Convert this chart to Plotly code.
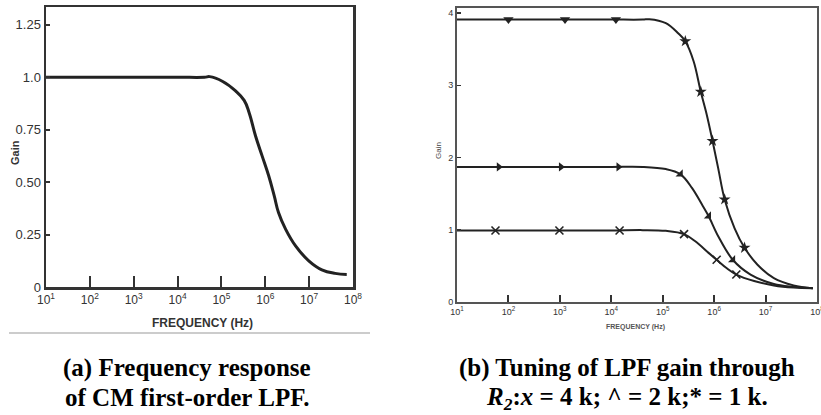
import plotly.graph_objects as go

W, H = 821, 415

# ---------------- data: panel (a) ----------------
a_freq = [1e1, 1e2, 1e3, 1e4, 4.1e4, 5.4e4, 1.07e5, 2.1e5, 3.3e5, 4.3e5, 6.0e5,
          8.5e5, 1.2e6, 1.6e6, 2.0e6, 2.9e6, 4.9e6, 9.8e6, 1.95e7, 3.9e7, 7.2e7]
a_gain = [1.0, 1.0, 1.0, 1.0, 1.0, 1.003, 0.98, 0.935, 0.89, 0.83, 0.72,
          0.624, 0.529, 0.434, 0.355, 0.276, 0.196, 0.125, 0.082, 0.065, 0.06]
a_yticks = [0, 0.25, 0.5, 0.75, 1.0, 1.25]
a_yticktext = ["0", "0.25", "0.50", "0.75", "1.0", "1.25"]

# ---------------- data: panel (b) ----------------
decades = [1, 2, 3, 4, 5, 6, 7, 8]
dec_labels = ["10<sup>%d</sup>" % d for d in decades]

b4_freq = [1e1, 1e2, 1e3, 1e4, 4.1e4, 5.5e4, 1.15e5, 2.0e5, 2.75e5, 4.0e5, 5.5e5,
           7.2e5, 9.3e5, 1.2e6, 1.6e6, 2.5e6, 3.9e6, 6.9e6, 1.45e7, 3.5e7, 8.3e7]
b4_gain = [3.91, 3.91, 3.91, 3.91, 3.91, 3.915, 3.86, 3.72, 3.61, 3.33, 2.91,
           2.59, 2.23, 1.85, 1.42, 1.02, 0.75, 0.52, 0.33, 0.23, 0.19]
b4_mk_freq = [1e2, 1.26e3, 1.23e4, 2.75e5, 5.5e5, 9.3e5, 1.6e6, 3.9e6]
b4_mk_gain = [3.91, 3.91, 3.91, 3.61, 2.91, 2.23, 1.42, 0.75]

b2_freq = [1e1, 1e2, 1e3, 1e4, 4.1e4, 1.15e5, 2.2e5, 3.7e5, 5.8e5, 7.8e5, 1.2e6,
           2.3e6, 5.1e6, 1.45e7, 3.5e7, 8.3e7]
b2_gain = [1.87, 1.87, 1.87, 1.87, 1.87, 1.84, 1.77, 1.58, 1.35, 1.19, 0.91,
           0.585, 0.38, 0.25, 0.21, 0.19]
b2_mk_freq = [6.5e1, 1.05e3, 1.38e4, 2.2e5, 7.8e5, 2.3e6]
b2_mk_gain = [1.87, 1.87, 1.87, 1.77, 1.19, 0.585]

b1_freq = [1e1, 1e2, 1e3, 1e4, 4.1e4, 1.15e5, 2.6e5, 4.3e5, 7.8e5, 1.12e6, 1.74e6,
           2.7e6, 6.0e6, 1.45e7, 3.5e7, 8.3e7]
b1_gain = [0.99, 0.99, 0.99, 0.99, 0.995, 0.985, 0.94, 0.84, 0.68, 0.585, 0.47,
           0.38, 0.29, 0.23, 0.20, 0.19]
b1_mk_freq = [5.6e1, 9.8e2, 1.45e4, 2.6e5, 1.12e6, 2.7e6]
b1_mk_gain = [0.99, 0.99, 0.99, 0.94, 0.585, 0.38]
b_yticks = [0, 1, 2, 3, 4]

# ---------------- layout helpers ----------------
def px_x(p):
    return p / W

def px_y(p):
    return 1 - p / H

NARROW = "Liberation Sans Narrow, Arial Narrow, Liberation Sans, Arial"
SANS = "Liberation Sans, Arial"
SERIF = "Liberation Serif, Times New Roman, serif"
INK = "#222222"

fig = go.Figure()

# panel (a)
fig.add_trace(go.Scatter(x=a_freq, y=a_gain, mode="lines",
                         line=dict(color=INK, width=3, shape="spline", smoothing=1.2),
                         xaxis="x", yaxis="y", showlegend=False, hoverinfo="skip"))

# panel (b)
for fx, gy in [(b4_freq, b4_gain), (b2_freq, b2_gain), (b1_freq, b1_gain)]:
    fig.add_trace(go.Scatter(x=fx, y=gy, mode="lines",
                             line=dict(color=INK, width=2, shape="spline", smoothing=1.0),
                             xaxis="x2", yaxis="y2", showlegend=False, hoverinfo="skip"))

fig.add_trace(go.Scatter(x=b4_mk_freq, y=b4_mk_gain, mode="markers", xaxis="x2", yaxis="y2",
                         marker=dict(symbol=["triangle-down"] * 3 + ["star"] * 5, size=9, color=INK),
                         showlegend=False, hoverinfo="skip"))
fig.add_trace(go.Scatter(x=b2_mk_freq, y=b2_mk_gain, mode="markers", xaxis="x2", yaxis="y2",
                         marker=dict(symbol=["triangle-right"] * 3 + ["triangle-se"] * 3, size=8, color=INK),
                         showlegend=False, hoverinfo="skip"))
fig.add_trace(go.Scatter(x=b1_mk_freq, y=b1_mk_gain, mode="markers", xaxis="x2", yaxis="y2",
                         marker=dict(symbol="x-thin", size=8, color=INK, line=dict(color=INK, width=1.6)),
                         showlegend=False, hoverinfo="skip"))

fig.update_layout(
    width=W, height=H, margin=dict(l=0, r=0, t=0, b=0, autoexpand=False),
    paper_bgcolor="white", plot_bgcolor="white",
    xaxis=dict(type="log", domain=[px_x(46), px_x(353)], range=[1, 8], anchor="y",
               tickvals=[10 ** d for d in decades], ticktext=dec_labels,
               ticks="inside", ticklen=11, tickwidth=2, tickcolor="#333",
               showline=True, mirror=True, linecolor="#333", linewidth=2.5,
               showgrid=False, zeroline=False, automargin=False, ticklabeloverflow="allow",
               tickfont=dict(family=NARROW, size=12, color="#333")),
    yaxis=dict(domain=[px_y(287), px_y(7)], range=[0, 1.335], anchor="x",
               tickvals=a_yticks, ticktext=a_yticktext,
               ticks="inside", ticklen=4, tickwidth=2, tickcolor="#333",
               showline=True, mirror=True, linecolor="#333", linewidth=2.5,
               showgrid=False, zeroline=False, automargin=False,
               tickfont=dict(family=NARROW, size=13, color="#333")),
    xaxis2=dict(type="log", domain=[px_x(457), px_x(817)], range=[1, 8], anchor="y2",
                tickvals=[10 ** d for d in decades], ticktext=dec_labels,
                ticks="inside", ticklen=7, tickwidth=2, tickcolor="#333",
                showline=True, mirror=True, linecolor="#555", linewidth=2,
                showgrid=False, zeroline=False, automargin=False, ticklabeloverflow="allow",
                tickfont=dict(family=SANS, size=9, color="#333")),
    yaxis2=dict(domain=[px_y(302), px_y(8)], range=[0, 4.07], anchor="x2",
                tickvals=b_yticks,
                ticks="inside", ticklen=4, tickwidth=1.5, tickcolor="#333",
                showline=True, mirror=True, linecolor="#555", linewidth=2,
                showgrid=False, zeroline=False, automargin=False,
                tickfont=dict(family=SANS, size=9, color="#333")),
    shapes=[dict(type="line", xref="paper", yref="paper", x0=px_x(9), x1=px_x(370),
                 y0=px_y(333), y1=px_y(333), line=dict(color="#999", width=1))],
)

ann = [
    dict(x=px_x(15), y=px_y(153), text="<b>Gain</b>", textangle=-90,
         font=dict(family=SANS, size=11, color="#333")),
    dict(x=px_x(202), y=px_y(323), text="<b>FREQUENCY (Hz)</b>",
         font=dict(family=NARROW, size=12, color="#333")),
    dict(x=px_x(438), y=px_y(150), text="Gain", textangle=-90,
         font=dict(family=SANS, size=8, color="#444")),
    dict(x=px_x(635), y=px_y(327), text="<b>FREQUENCY (Hz)</b>",
         font=dict(family=SANS, size=7, color="#555")),
    dict(x=px_x(187), y=px_y(368), text="<b>(a) Frequency response</b>",
         font=dict(family=SERIF, size=25, color="black")),
    dict(x=px_x(187), y=px_y(397), text="<b>of CM first-order LPF.</b>",
         font=dict(family=SERIF, size=25, color="black")),
    dict(x=px_x(627), y=px_y(368), text="<b>(b) Tuning of LPF gain through</b>",
         font=dict(family=SERIF, size=25, color="black")),
    dict(x=px_x(627), y=px_y(398),
         text="<b><i>R<sub>2</sub></i>:<i>x</i> = 4 k; ^ = 2 k;* = 1 k.</b>",
         font=dict(family=SERIF, size=25, color="black")),
]
for a in ann:
    a.update(xref="paper", yref="paper", showarrow=False, xanchor="center", yanchor="middle")
fig.update_layout(annotations=ann)

fig.write_html("out.html", config={"displayModeBar": False, "staticPlot": True},
               post_script="document.body.style.margin='0';document.body.style.overflow='hidden';")
